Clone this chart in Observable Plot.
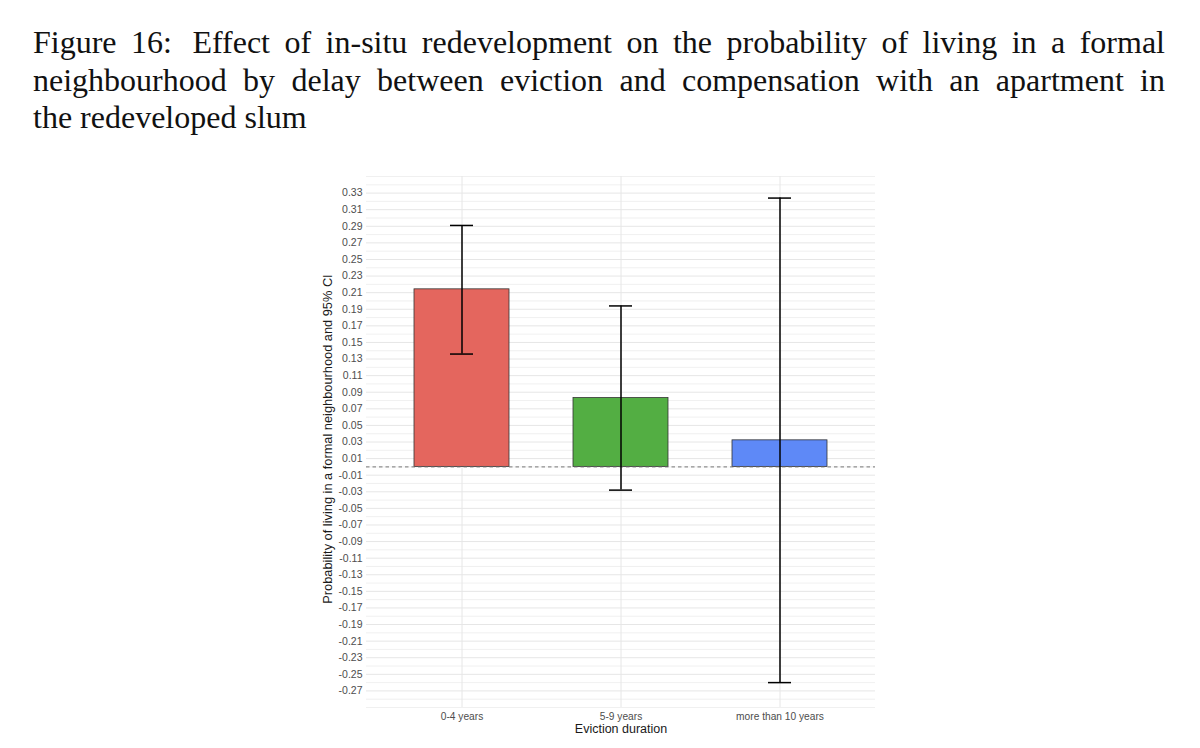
<!DOCTYPE html>
<html>
<head>
<meta charset="utf-8">
<script src="https://cdn.jsdelivr.net/npm/d3@7"></script>
<script src="https://cdn.jsdelivr.net/npm/@observablehq/plot@0.6"></script>
<style>
  html, body { margin: 0; padding: 0; background: #fff; }
  #title {
    box-sizing: border-box;
    height: 150px;
    padding: 24px 35px 0 33px;
    font-family: "Liberation Serif", "DejaVu Serif", serif;
    font-size: 32px;
    line-height: 37.7px;
    color: #111;
  }
  #title div { text-align: justify; text-align-last: justify; white-space: nowrap; }
  #title div.last { text-align-last: left; }
  #chart svg { display: block; }
</style>
</head>
<body>
<div id="title">
  <div>Figure 16:<span style="margin-right:6px"></span> Effect of in-situ redevelopment on the probability of living in a formal</div>
  <div>neighbourhood by delay between eviction and compensation with an apartment in</div>
  <div class="last">the redeveloped slum</div>
</div>
<div id="chart"></div>
<script>
const categories = ["0-4 years", "5-9 years", "more than 10 years"];
const estimates = [0.214, 0.083, 0.032];
const ciLow = [0.136, -0.028, -0.260];
const ciHigh = [0.291, 0.194, 0.324];
const barColors = ["#E4665E", "#53AE43", "#5E89F7"];
const yTickLabels = [-0.27, -0.25, -0.23, -0.21, -0.19, -0.17, -0.15, -0.13, -0.11, -0.09, -0.07, -0.05, -0.03, -0.01,
  0.01, 0.03, 0.05, 0.07, 0.09, 0.11, 0.13, 0.15, 0.17, 0.19, 0.21, 0.23, 0.25, 0.27, 0.29, 0.31, 0.33];
const yMinorGrid = [-0.29, -0.28, -0.26, -0.24, -0.22, -0.20, -0.18, -0.16, -0.14, -0.12, -0.10, -0.08, -0.06, -0.04, -0.02, 0.00,
  0.02, 0.04, 0.06, 0.08, 0.10, 0.12, 0.14, 0.16, 0.18, 0.20, 0.22, 0.24, 0.26, 0.28, 0.30, 0.32, 0.34, 0.35];
const yDomain = [-0.29, 0.35];
const xTitle = "Eviction duration";
const yTitle = "Probability of living in a formal neighbourhood and 95% CI";

const data = categories.map((c, i) => ({cat: c, est: estimates[i], lo: ciLow[i], hi: ciHigh[i]}));

const chart = Plot.plot({
  width: 1200,
  height: 598,
  marginTop: 26,
  marginBottom: 41,
  marginLeft: 366,
  marginRight: 325,
  style: {fontFamily: "'Liberation Sans', Arial, sans-serif", background: "#fff"},
  x: {type: "band", domain: categories, paddingInner: 0.4, paddingOuter: 0.3, tickSize: 0, tickPadding: 5, label: null},
  y: {domain: yDomain, ticks: yTickLabels, tickFormat: d => d.toFixed(2), tickSize: 0, tickPadding: 4, label: null},
  color: {domain: categories, range: barColors},
  marks: [
    Plot.ruleY(yMinorGrid, {stroke: "#ececec", strokeWidth: 0.8}),
    Plot.ruleY(yTickLabels, {stroke: "#e6e6e6", strokeWidth: 1}),
    Plot.ruleX(categories, {x: d => d, stroke: "#e6e6e6", strokeWidth: 1}),
    Plot.barY(data, {x: "cat", y: "est", fill: "cat", stroke: "#333", strokeWidth: 0.8}),
    Plot.ruleY([0], {stroke: "#666", strokeWidth: 0.9, strokeDasharray: "3.5,3"}),
    Plot.ruleX(data, {x: "cat", y1: "lo", y2: "hi", stroke: "#000", strokeWidth: 1.5}),
    Plot.tickY(data, {x: "cat", y: "lo", insetLeft: 36, insetRight: 36, stroke: "#000", strokeWidth: 1.5}),
    Plot.tickY(data, {x: "cat", y: "hi", insetLeft: 36, insetRight: 36, stroke: "#000", strokeWidth: 1.5}),
    Plot.text([xTitle], {frameAnchor: "bottom", dy: 25, fontSize: 12.5, fill: "#1a1a1a"}),
    Plot.text([yTitle], {frameAnchor: "left", textAnchor: "middle", dx: -39, dy: -3, rotate: -90, fontSize: 12.8, fill: "#1a1a1a"})
  ]
});
chart.querySelectorAll("g[aria-label='x-axis'], g[aria-label='x-axis tick label']").forEach(g => { g.setAttribute("font-size", "10.2"); g.setAttribute("fill", "#4d4d4d"); });
chart.querySelectorAll("g[aria-label='y-axis'], g[aria-label='y-axis tick label']").forEach(g => { g.setAttribute("font-size", "10.5"); g.setAttribute("fill", "#4d4d4d"); });
document.getElementById("chart").appendChild(chart);
</script>
</body>
</html>
